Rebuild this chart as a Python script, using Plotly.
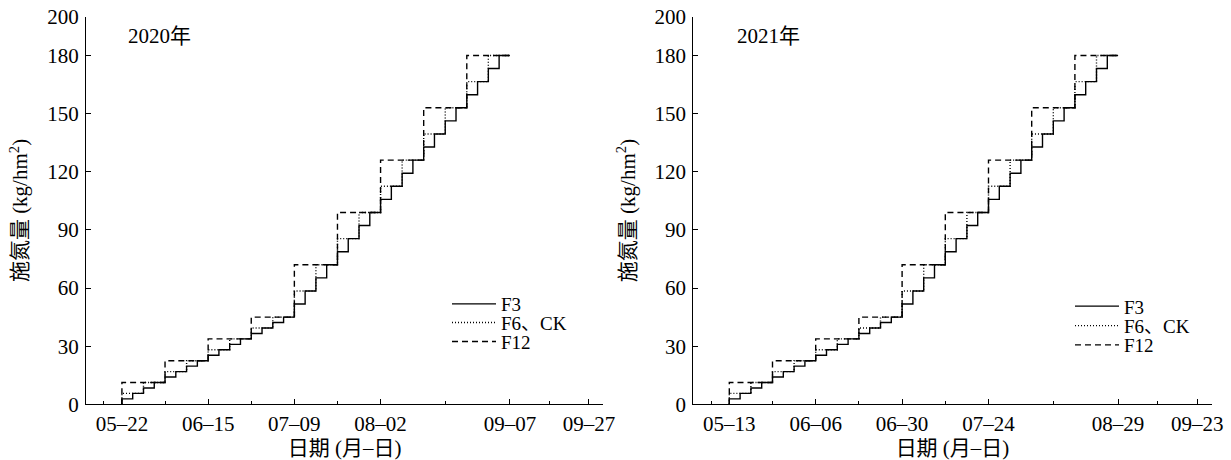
import plotly.graph_objects as go

# ---------------- data ----------------
# days after the first N application (day 0), cumulative N applied (kg/hm2)
f3_days = [0, 3, 6, 9, 12, 15, 18, 21, 24, 27, 30, 33, 36, 39, 42, 45, 48, 51,
           54, 57, 60, 63, 66, 69, 72, 75, 78, 81, 84, 87, 90, 93, 96, 99, 102, 105]
f3_cum = [2.81, 5.63, 8.44, 11.25, 14.06, 16.88, 19.69, 22.5, 25.31, 28.13, 30.94, 33.75,
          36.56, 39.38, 42.19, 45.0, 51.75, 58.5, 65.25, 72.0, 78.75, 85.5, 92.25, 99.0,
          105.75, 112.5, 119.25, 126.0, 132.75, 139.5, 146.25, 153.0, 159.75, 166.5, 173.25, 180.0]

f6_days = [0, 6, 12, 18, 24, 30, 36, 42, 48, 54, 60, 66, 72, 78, 84, 90, 96, 102]
f6_cum = [5.63, 11.25, 16.88, 22.5, 28.13, 33.75, 39.38, 45.0, 58.5, 72.0,
          85.5, 99.0, 112.5, 126.0, 139.5, 153.0, 166.5, 180.0]

f12_days = [0, 12, 24, 36, 48, 60, 72, 84, 96]
f12_cum = [11.25, 22.5, 33.75, 45.0, 72.0, 99.0, 126.0, 153.0, 180.0]

end_day = 108

# x-axis ticks (days after first application) and labels
major_days = [0, 24, 48, 72, 108, 130]
minor_days = [-5, 12, 36, 60, 90, 119]
labels_2020 = ["05–22", "06–15", "07–09", "08–02", "09–07", "09–27"]
labels_2021 = ["05–13", "06–06", "06–30", "07–24", "08–29", "09–23"]

y_ticks = [0, 30, 60, 90, 120, 150, 180, 200]

series_names = ["F3", "F6、CK", "F12"]
series_days = [f3_days, f6_days, f12_days]
series_cum = [f3_cum, f6_cum, f12_cum]
series_dash = ["solid", "1px,2px", "6px,4px"]

FONT = "Liberation Serif, Times New Roman, Noto Sans CJK SC, serif"
FS = 21
W, H = 1231, 460

fig = go.Figure()

# legend rows (pixel) for each panel: left x of legend, row centres
legend_rows = [
    (447, [304, 322.7, 341.7]),
    (1070, [306.3, 325.8, 345]),
]

layout_legends = {}
leg_idx = 0
for panel, (xa, ya) in enumerate([("x", "y"), ("x2", "y2")]):
    lx, rows = legend_rows[panel]
    for k in range(3):
        leg_idx += 1
        leg_name = "legend" if leg_idx == 1 else f"legend{leg_idx}"
        days, cum = series_days[k], series_cum[k]
        xs = [days[0]] + list(days) + [end_day]
        ys = [0] + list(cum) + [cum[-1]]
        fig.add_trace(go.Scatter(
            x=xs, y=ys, mode="lines", name=series_names[k], line_shape="hv",
            line=dict(color="black", width=1.4, dash=series_dash[k]),
            xaxis=xa, yaxis=ya, legend=leg_name, showlegend=True,
        ))
        layout_legends[leg_name] = dict(
            x=lx / W, y=1 - rows[k] / H, xanchor="left", yanchor="middle",
            font=dict(family=FONT, size=19, color="black"),
            bgcolor="rgba(0,0,0,0)", borderwidth=0, itemwidth=44,
        )


def xaxis_cfg(domain, labels, anchor):
    return dict(
        domain=domain, range=[-10, 134], anchor=anchor, automargin=False,
        tickmode="array", tickvals=major_days, ticktext=labels,
        ticks="inside", ticklen=5, tickwidth=1, tickcolor="black",
        showline=True, linecolor="black", linewidth=1,
        showgrid=False, zeroline=False,
        tickfont=dict(family=FONT, size=FS, color="black"),
        minor=dict(tickmode="array", tickvals=minor_days, ticks="inside",
                   ticklen=3, tickwidth=1, tickcolor="black", showgrid=False),
        title=dict(text="日期 (月–日)", font=dict(family=FONT, size=FS, color="black"),
                   standoff=12),
    )


def yaxis_cfg(anchor):
    return dict(
        domain=[1 - 404.3 / H, 1 - 16.7 / H], range=[0, 200], anchor=anchor,
        automargin=False, tickmode="array", tickvals=y_ticks,
        ticks="inside", ticklen=5, tickwidth=1, tickcolor="black",
        showline=True, linecolor="black", linewidth=1,
        showgrid=False, zeroline=False, ticklabelstandoff=2,
        tickfont=dict(family=FONT, size=FS, color="black"),
        title=dict(text="施氮量 (kg/hm<sup>2</sup>)",
                   font=dict(family=FONT, size=FS, color="black"), standoff=13),
    )


fig.update_layout(
    template="none",
    width=W, height=H,
    margin=dict(l=0, r=0, t=0, b=0, autoexpand=False),
    paper_bgcolor="white", plot_bgcolor="white",
    font=dict(family=FONT, size=FS, color="black"),
    xaxis=xaxis_cfg([86 / W, 603.3 / W], labels_2020, "y"),
    yaxis=yaxis_cfg("x"),
    xaxis2=xaxis_cfg([693.3 / W, 1211.7 / W], labels_2021, "y2"),
    yaxis2=yaxis_cfg("x2"),
    annotations=[
        dict(text="2020年", xref="paper", yref="paper", x=126 / W, y=1 - 36 / H,
             xanchor="left", yanchor="middle", showarrow=False,
             font=dict(family=FONT, size=FS, color="black")),
        dict(text="2021年", xref="paper", yref="paper", x=735 / W, y=1 - 36 / H,
             xanchor="left", yanchor="middle", showarrow=False,
             font=dict(family=FONT, size=FS, color="black")),
    ],
    **layout_legends,
)

fig.write_html(
    "out.html",
    config={"displayModeBar": False},
    post_script="document.body.style.margin='0px';"
                "document.documentElement.style.overflow='hidden';",
)
